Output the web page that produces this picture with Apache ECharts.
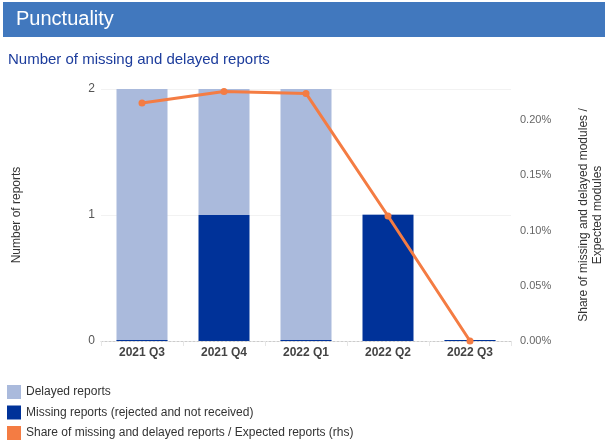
<!DOCTYPE html>
<html><head><meta charset="utf-8">
<script src="https://cdn.jsdelivr.net/npm/echarts@6/dist/echarts.min.js"></script>
<style>html,body{margin:0;padding:0;background:#fff}#c{width:605px;height:444px}</style>
</head><body><div id="c"></div>
<script>
var categories = ['2021 Q3','2021 Q4','2022 Q1','2022 Q2','2022 Q3'];
var missingReports = [0, 1, 0, 1, 0];
var delayedReports = [2, 1, 2, 0, 0];
var shareMissingDelayed = [0.2154, 0.2258, 0.2240, 0.1131, 0];
var leftTicks = [0, 1, 2];
var rightTickLabels = ['0.00%','0.05%','0.10%','0.15%','0.20%'];

var FONT = '"Liberation Sans", Arial, sans-serif';
var chart = echarts.init(document.getElementById('c'), null, {renderer:'canvas'});
chart.setOption({
  animation:false,
  textStyle:{fontFamily:FONT},
  graphic:[
    {type:'rect', shape:{x:3,y:2,width:602,height:35}, style:{fill:'#4178BE'}},
    {type:'text', left:16, top:9, style:{text:'Punctuality', fill:'#fff', font:'20px '+FONT}},
    {type:'text', left:8, top:52, style:{text:'Number of missing and delayed reports', fill:'#1C3C9C', font:'15px '+FONT}}
  ],
  legend:{
    orient:'vertical', left:7, top:385, padding:0, itemWidth:14, itemHeight:14, itemGap:6.5,
    textStyle:{fontSize:12, color:'#333', fontFamily:FONT},
    data:[
      {name:'Delayed reports', icon:'rect'},
      {name:'Missing reports (rejected and not received)', icon:'rect'},
      {name:'Share of missing and delayed reports / Expected reports (rhs)', icon:'rect'}
    ]
  },
  grid:{left:101, right:94, top:89, bottom:103, containLabel:false, outerBoundsMode:'none'},
  xAxis:[
    {type:'category', data:categories,
     axisLine:{show:true, lineStyle:{color:'#ccc', type:[2,2], width:1}},
     axisTick:{show:false},
     axisLabel:{fontWeight:'bold', fontSize:12, color:'#444', margin:6}},
    {type:'category', data:categories, position:'bottom', offset:14,
     axisLine:{show:false}, axisTick:{show:true, length:5, lineStyle:{color:'#e6e6e6'}},
     axisLabel:{show:false}}
  ],
  yAxis:[
    {type:'value', min:0, max:2, interval:1,
     name:'Number of reports', nameLocation:'middle', nameRotate:90, nameGap:78,
     nameTextStyle:{fontSize:12, color:'#333'},
     axisLabel:{fontSize:12, color:'#555', margin:6, formatter:function(v){return leftTicks.indexOf(v)>=0?String(v):'';}},
     axisLine:{show:false}, axisTick:{show:false},
     splitLine:{lineStyle:{color:'#f2f2f2'}}},
    {type:'value', min:0, max:0.228, interval:0.05, position:'right',
     name:'Share of missing and delayed modules /\nExpected modules', nameLocation:'middle', nameRotate:90, nameGap:66,
     nameTextStyle:{fontSize:12, color:'#333', lineHeight:14},
     axisLabel:{fontSize:11, color:'#666', margin:9, showMaxLabel:false,
       formatter:function(v){var i=Math.round(v/0.05); return Math.abs(v-i*0.05)<1e-6 && i<rightTickLabels.length ? rightTickLabels[i] : '';}},
     axisLine:{show:false}, axisTick:{show:false}, splitLine:{show:false}}
  ],
  series:[
    {name:'Missing reports (rejected and not received)', type:'bar', stack:'r', data:missingReports,
     barWidth:51, barMinHeight:1, z:3, itemStyle:{color:'#003299'}},
    {name:'Delayed reports', type:'bar', stack:'r', data:delayedReports,
     barWidth:51, barMinHeight:1, z:2, itemStyle:{color:'#AABADC'}},
    {name:'Share of missing and delayed reports / Expected reports (rhs)', type:'line', yAxisIndex:1,
     data:shareMissingDelayed, symbol:'circle', symbolSize:7, z:4,
     lineStyle:{color:'#F47C43', width:3}, itemStyle:{color:'#F47C43'}}
  ]
});
</script></body></html>
